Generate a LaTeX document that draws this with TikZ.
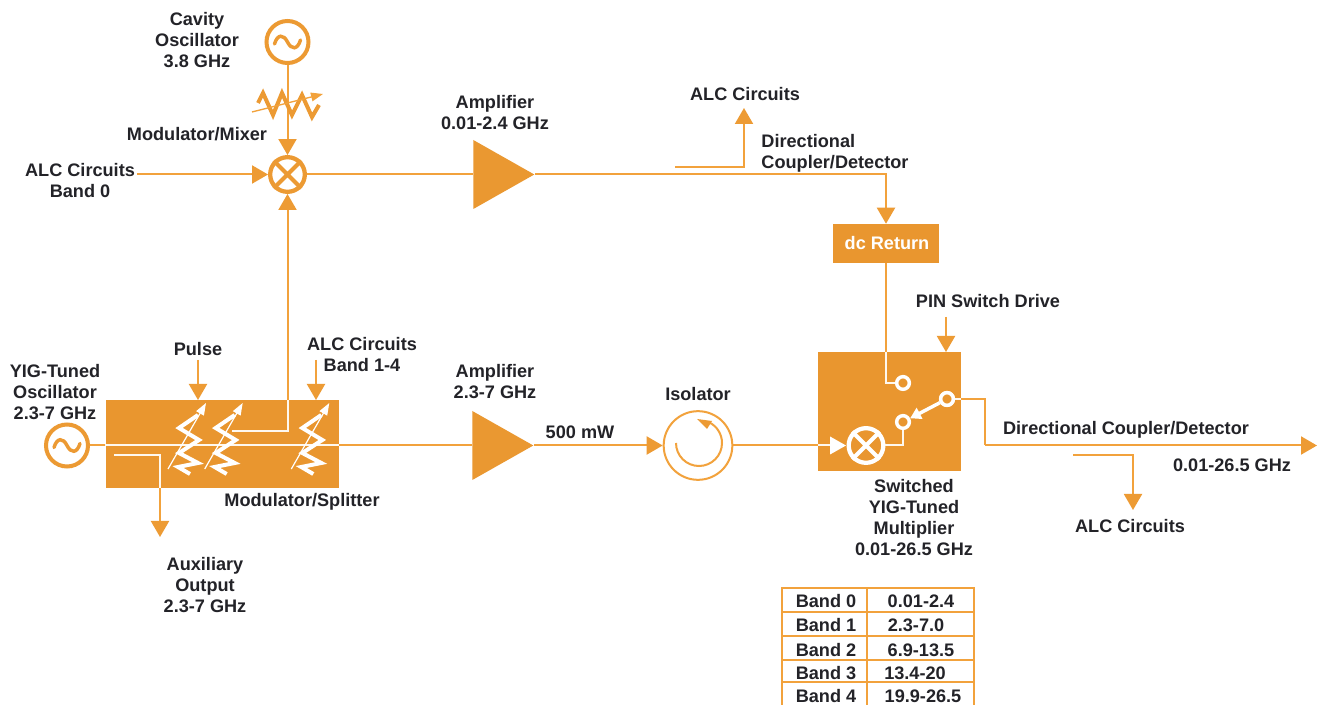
\documentclass[tikz,border=0pt]{standalone}
\usepackage{fontspec}
\setmainfont{Liberation Sans}
\usetikzlibrary{arrows.meta,shapes.geometric,calc}
\definecolor{wireC}{HTML}{F2A23C}
\definecolor{boxC}{HTML}{E9962F}
\definecolor{txtC}{HTML}{232328}
\tikzset{
  wire/.style={draw=wireC,line width=1.5pt,line join=miter},
  wwire/.style={draw=white!92!wireC,line width=1.5pt,line join=miter},
  tip/.style={-{Triangle[length=12pt,width=13.5pt,fill=boxC!60!wireC,color=boxC!60!wireC]}},
  lbl/.style={align=center,inner sep=0pt,text=txtC,font=\fontsize{13.6}{15.75}\selectfont\bfseries},
  osc/.style={circle,draw=boxC!70!wireC,line width=3pt,fill=white,minimum size=31.5pt,inner sep=0pt},
  mixo/.style={circle,draw=boxC!70!wireC,line width=3.2pt,fill=white,minimum size=26pt,inner sep=0pt},
  mixw/.style={circle,draw=white,line width=3.2pt,fill=boxC,minimum size=26pt,inner sep=0pt},
  ring/.style={circle,draw=white,line width=2.6pt,fill=boxC,minimum size=9.5pt,inner sep=0pt},
  amp/.style={isosceles triangle,isosceles triangle stretches,shape border rotate=0,fill=boxC!85!wireC,draw=none,minimum width=51.75pt,minimum height=45.75pt,inner sep=0pt,anchor=apex},
  blk/.style={fill=boxC,draw=none,inner sep=0pt},
  tbl/.style={draw=wireC,line width=1.5pt},
  attn/.style={draw=white,line width=3pt,line join=miter},
  attnarrow/.style={draw=white,line width=.9pt,-{Triangle[length=9pt,width=6.5pt,fill=white,color=white]}}
}
\newcommand{\sinewave}[2]{\draw[draw=#2,line width=2.6pt,line cap=round] ($(#1.center)+(-13,2)$) .. controls ($(#1.center)+(-10,-8)$) and ($(#1.center)+(-4,-8)$) .. (#1.center) .. controls ($(#1.center)+(4,8)$) and ($(#1.center)+(10,8)$) .. ($(#1.center)+(13,-2)$);}
\newcommand{\xcross}[2]{\draw[draw=#2,line width=3pt] (#1.45) -- (#1.225) (#1.135) -- (#1.315);}
\newcommand{\vattn}[1]{%
  \begin{scope}[shift={(#1,0)}]
    \draw[attn] (198,415) -- (179,428) -- (199,440) -- (179,453) -- (198,463) -- (178,467) -- (190,474);
    \draw[attnarrow] (168,469) -- (206,403);
  \end{scope}}
\begin{document}
\begin{tikzpicture}[x=.75pt,y=-.75pt]
\useasboundingbox[fill=white] (0,0) rectangle (1318,705);

% blocks
\node[blk,minimum width=174.75pt,minimum height=66pt] (split) at (222,444) {};
\node[blk,minimum width=79.5pt,minimum height=29.25pt] (dc) at (886,243.5) {};
\node[blk,minimum width=107.25pt,minimum height=89.25pt] (sw) at (889.5,411.5) {};

% oscillators, mixers, amps
\node[osc] (osc1) at (287.5,42) {};
\node[osc] (osc2) at (67,445.5) {};
\node[mixo] (mix1) at (287.5,174.5) {};
\node[mixw] (mix2) at (866,445.5) {};
\node[amp] (amp1) at (535,174.5) {};
\node[amp] (amp2) at (534,445.5) {};
\node[circle,draw=wireC,line width=1.5pt,fill=white,minimum size=51.5pt,inner sep=0pt] (iso) at (698,445.5) {};
\node[ring] (r1) at (903,383) {};
\node[ring] (r2) at (903,422) {};
\node[ring] (r3) at (947,399) {};
\sinewave{osc1}{boxC!70!wireC}
\sinewave{osc2}{boxC!70!wireC}
\xcross{mix1}{boxC!70!wireC}
\xcross{mix2}{white}

% free ends and bends
\coordinate (alcin) at (137,174.5);
\coordinate (cplA) at (675,167);
\coordinate (cplB) at (744,167);
\coordinate (alcU) at (744,108);
\coordinate (pulse0) at (198,360);
\coordinate (pulse1) at (198,400);
\coordinate (alc0) at (316,360);
\coordinate (alc1) at (316,400);
\coordinate (pin0) at (946,317);
\coordinate (pin1) at (946,352);
\coordinate (auxA) at (114,455);
\coordinate (auxB) at (160,455);
\coordinate (auxC) at (160,537);
\coordinate (tapA) at (232,431);
\coordinate (tapB) at (287.5,431);
\coordinate (outA) at (985,399);
\coordinate (outB) at (985,445.5);
\coordinate (outC) at (1317,445.5);
\coordinate (cp2A) at (1073,455);
\coordinate (cp2B) at (1133,455);
\coordinate (cp2C) at (1133,510);

% orange connectors
\draw[wire,tip] (osc1) -- (mix1);
\draw[wire,tip] (alcin) -- (mix1);
\draw[wire] (mix1) -- (amp1.lower side);
\draw[wire,tip] (tapB) -- (mix1);
\draw[wire,tip] (amp1.apex) -| (dc.north);
\draw[wire,tip] (cplA) -- (cplB) -- (alcU);
\draw[wire] (osc2) -- (amp2.lower side);
\draw[wire,tip] (amp2.apex) -- (iso);
\draw[wire,tip] (iso) -- (mix2);
\draw[wire,tip] (pulse0) -- (pulse1);
\draw[wire,tip] (alc0) -- (alc1);
\draw[wire,tip] (pin0) -- (pin1);
\draw[wire,tip] (auxB) -- (auxC);
\draw[wire] (dc.south) -- (dc.south |- sw.north);
\draw[wire] (r3) -- (outA) -- (outB);
\draw[wire,tip] (outB) -- (outC);
\draw[wire,tip] (cp2A) -- (cp2B) -- (cp2C);

% white parts inside the blocks
\draw[wwire] (split.west |- osc2) -- (split.east |- osc2);
\draw[wwire] (auxA) -- (auxB) -- (auxB |- split.south);
\draw[wwire] (tapA) -- (tapB) -- (tapB |- split.north);
\vattn{0}
\vattn{36.7}
\vattn{123.3}
\draw[wwire] (dc.south |- sw.north) |- (r1.west);
\draw[wwire] (mix2.east) -| (r2.south);
\draw[wwire] (r3.east) -- (sw.east |- r3);
\draw[wwire] (sw.west |- mix2) -- (830,445.5);
\draw[white,line width=2.6pt,-{Triangle[length=8pt,width=9pt,fill=white,color=white]}] (r3) -- (r2);
\node[ring] at (r3) {};
\path[fill=white] (830,436.5) -- (846,445.5) -- (830,454.5) -- cycle;

% modulator on the cavity oscillator path
\draw[draw=boxC!70!wireC,line width=3pt,line join=miter] (258,103) -- (263,93) -- (273,115) -- (282,93) -- (292,115) -- (302,95) -- (312,117) -- (319,105);
\draw[draw=wireC,line width=1pt,-{Triangle[length=9pt,width=6.5pt,fill=wireC,color=wireC]}] (252,112) -- (323,94);

% isolator inner arrow
\draw[draw=wireC,line width=1.5pt] (676,443) arc (180:-65:23);
\path[fill=boxC!70!wireC] (697,419) -- (712,421) -- (707,429) -- cycle;

% texts
\node[lbl] (t1) at (197,40.5) {Cavity\\Oscillator\\3.8 GHz};
\node[lbl] (t2) at (197,134) {Modulator/Mixer};
\node[lbl] (t3) at (80,180.5) {ALC Circuits\\Band 0};
\node[lbl] (t4) at (495,112.5) {Amplifier\\0.01-2.4 GHz};
\node[lbl] (t5) at (745,94) {ALC Circuits};
\node[lbl,align=left] (t6) at (835,153) {Directional\\Coupler/Detector};
\node[lbl,text=white] (t7) at (887,243) {dc Return};
\node[lbl] (t8) at (988,301) {PIN Switch Drive};
\node[lbl] (t9) at (55,392) {YIG-Tuned\\Oscillator\\2.3-7 GHz};
\node[lbl] (t10) at (198,349) {Pulse};
\node[lbl] (t11) at (362,354.5) {ALC Circuits\\Band 1-4};
\node[lbl] (t12) at (495,381.5) {Amplifier\\2.3-7 GHz};
\node[lbl] (t13) at (580,432) {500 mW};
\node[lbl] (t14) at (698,394) {Isolator};
\node[lbl] (t15) at (302,502) {Modulator/Splitter};
\node[lbl] (t16) at (205,585) {Auxiliary\\Output\\2.3-7 GHz};
\node[lbl] (t17) at (914,517.5) {Switched\\YIG-Tuned\\Multiplier\\0.01-26.5 GHz};
\node[lbl] (t18) at (1126,429.5) {Directional Coupler/Detector};
\node[lbl] (t19) at (1232,465) {0.01-26.5 GHz};
\node[lbl] (t20) at (1130,526) {ALC Circuits};

% table
\draw[tbl] (782,705) -- (782,588) -- (974,588) -- (974,705);
\draw[tbl] (867,588) -- (867,705);
\draw[tbl] (782,612) -- (974,612) (782,636) -- (974,636) (782,660) -- (974,660) (782,682) -- (974,682);
\node[lbl] (b0) at (826,601) {Band 0};
\node[lbl] (b1) at (826,625) {Band 1};
\node[lbl] (b2) at (826,650) {Band 2};
\node[lbl] (b3) at (826,673) {Band 3};
\node[lbl] (b4) at (826,696) {Band 4};
\node[lbl] (v0) at (921,601) {0.01-2.4};
\node[lbl] (v1) at (916,625) {2.3-7.0};
\node[lbl] (v2) at (921,650) {6.9-13.5};
\node[lbl] (v3) at (915,673) {13.4-20};
\node[lbl] (v4) at (923,696) {19.9-26.5};
\end{tikzpicture}
\end{document}
